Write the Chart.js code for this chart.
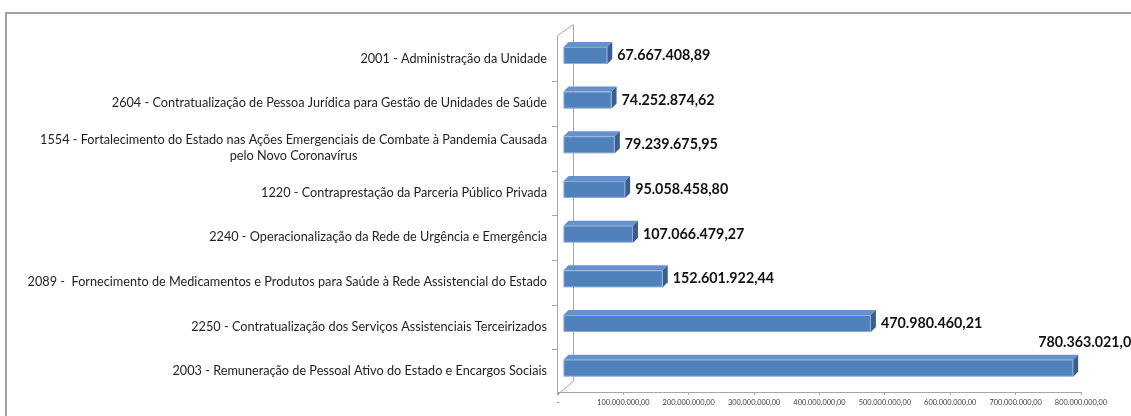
<!DOCTYPE html>
<html lang="pt-BR">
<head>
<meta charset="utf-8">
<title>Despesas por ação</title>
<script src="https://cdn.jsdelivr.net/npm/chart.js@4.4.1/dist/chart.umd.min.js"></script>
<style>
  html, body { margin: 0; padding: 0; background: #fff; overflow: hidden; }
  #wrap { position: relative; width: 1131px; height: 416px; }
  #frame {
    position: absolute; left: 5px; top: 12px; right: -10px; bottom: -10px;
    border-left: 2px solid #a3a3a3; border-top: 2px solid #a3a3a3;
  }
  #chart { position: absolute; left: 0; top: 0; }
</style>
</head>
<body>
<div id="wrap">
  <div id="frame"></div>
  <canvas id="chart" width="1131" height="416"></canvas>
</div>
<script>
// ------------------------------------------------------------
// Dados
// ------------------------------------------------------------

const acoes = [
  '2001 - Administração da Unidade',
  '2604 - Contratualização de Pessoa Jurídica para Gestão de Unidades de Saúde',
  ['1554 - Fortalecimento do Estado nas Ações Emergenciais de Combate à Pandemia Causada', 'pelo Novo Coronavírus'],
  '1220 - Contraprestação da Parceria Público Privada',
  '2240 - Operacionalização da Rede de Urgência e Emergência',
  '2089 -  Fornecimento de Medicamentos e Produtos para Saúde à Rede Assistencial do Estado',
  '2250 - Contratualização dos Serviços Assistenciais Terceirizados',
  '2003 - Remuneração de Pessoal Ativo do Estado e Encargos Sociais'
];

const valores = [
  67667408.89,
  74252874.62,
  79239675.95,
  95058458.80,
  107066479.27,
  152601922.44,
  470980460.21,
  780363021.09
];

const eixoMax = 800000000;
const eixoPasso = 100000000;

// ------------------------------------------------------------
// Aparência
// ------------------------------------------------------------

const FONTE = 'Lato, "Open Sans", sans-serif';
const COR_FRENTE = '#4f81bd';
const COR_TOPO = '#6592cc';
const COR_LADO = '#385f8f';
const COR_PAREDE = '#a6a6a6';
const PROF = 5;      // profundidade do efeito 3D das barras
const DESLOC = 5;    // deslocamento da face frontal em relação ao zero

/**
 * Formata número no padrão brasileiro (1.234.567,89)
 */
function formatarBR(v) {
  const [inteiro, dec] = Math.abs(v).toFixed(2).split('.');
  return inteiro.replace(/\B(?=(\d{3})+(?!\d))/g, '.') + ',' + dec;
}

// ------------------------------------------------------------
// Plugin: paredes, barras 3D, rótulos
// ------------------------------------------------------------

const grafico3d = {
  id: 'grafico3d',

  beforeDatasetsDraw(chart) {
    const { ctx, chartArea } = chart;
    const yScale = chart.scales.y;
    const esq = chartArea.left - 1;
    const fundo = chartArea.left + 15;

    ctx.save();
    ctx.strokeStyle = COR_PAREDE;
    ctx.lineWidth = 1;
    ctx.beginPath();
    // parede lateral
    ctx.moveTo(esq + 0.5, chartArea.top + 1);
    ctx.lineTo(esq + 0.5, chartArea.bottom + 3);
    ctx.moveTo(esq + 0.5, chartArea.top + 1);
    ctx.lineTo(fundo + 0.5, chartArea.top - 10);
    ctx.lineTo(fundo + 0.5, chartArea.bottom - 11);
    ctx.lineTo(esq + 0.5, chartArea.bottom + 3);
    // marcas entre categorias
    const passo = (chartArea.bottom - chartArea.top) / acoes.length;
    for (let i = 1; i < acoes.length; i++) {
      const yy = Math.round(chartArea.top + passo * i + 2) + 0.5;
      ctx.moveTo(esq - 5, yy);
      ctx.lineTo(esq, yy);
    }
    ctx.stroke();

    // rótulos das ações (bloco alinhado à direita, linhas centralizadas)
    ctx.font = '12.7px ' + FONTE;
    ctx.fillStyle = '#1f1f1f';
    ctx.textAlign = 'center';
    ctx.textBaseline = 'middle';
    const direita = chartArea.left - 11;
    const alturaLinha = 16;
    acoes.forEach((rotulo, i) => {
      const linhas = Array.isArray(rotulo) ? rotulo : [rotulo];
      const largura = Math.max(...linhas.map(l => ctx.measureText(l).width));
      const cx = direita - largura / 2;
      const cy = yScale.getPixelForTick(i) + 1.5;
      linhas.forEach((l, k) => {
        const yy = cy + (k - (linhas.length - 1) / 2) * alturaLinha;
        ctx.fillText(l, cx, yy);
      });
    });
    ctx.restore();
  },

  afterDatasetsDraw(chart) {
    const { ctx } = chart;
    const meta = chart.getDatasetMeta(0);

    ctx.save();
    meta.data.forEach((barra, i) => {
      const { x, y, base, height } = barra.getProps(['x', 'y', 'base', 'height'], true);
      const x0 = base + DESLOC;
      const x1 = x + DESLOC;
      const topo = y - height / 2 - 1.5;
      const baixo = topo + height;

      // face superior
      ctx.fillStyle = COR_TOPO;
      ctx.beginPath();
      ctx.moveTo(x0, topo);
      ctx.lineTo(x0 + PROF, topo - PROF);
      ctx.lineTo(x1 + PROF, topo - PROF);
      ctx.lineTo(x1, topo);
      ctx.closePath();
      ctx.fill();

      // face lateral
      ctx.fillStyle = COR_LADO;
      ctx.beginPath();
      ctx.moveTo(x1, topo);
      ctx.lineTo(x1 + PROF, topo - PROF);
      ctx.lineTo(x1 + PROF, baixo - PROF);
      ctx.lineTo(x1, baixo);
      ctx.closePath();
      ctx.fill();

      // face frontal
      ctx.fillStyle = COR_FRENTE;
      ctx.fillRect(x0, topo, x1 - x0, height);
      ctx.strokeStyle = 'rgba(255,255,255,0.35)';
      ctx.lineWidth = 1;
      ctx.strokeRect(x0 + 0.5, topo + 0.5, x1 - x0 - 1, height - 1);

      // rótulo de valor
      const texto = formatarBR(valores[i]);
      ctx.font = 'bold 14.3px ' + FONTE;
      ctx.fillStyle = '#111';
      ctx.textBaseline = 'middle';
      ctx.textAlign = 'left';
      const largura = ctx.measureText(texto).width;
      let lx = x1 + PROF + 5;
      let ly = topo + height / 2;
      if (lx + largura > chart.width) {
        // não cabe à direita: vai para cima da barra
        lx = x1 - 35;
        ly = topo - PROF - 12;
      }
      ctx.fillText(texto, lx, ly);
    });
    ctx.restore();
  }
};

// ------------------------------------------------------------
// Gráfico
// ------------------------------------------------------------

const ctx = document.getElementById('chart').getContext('2d');

new Chart(ctx, {
  type: 'bar',
  data: {
    labels: acoes,
    datasets: [{
      data: valores,
      backgroundColor: 'rgba(0,0,0,0)',
      borderWidth: 0,
      barPercentage: 0.38,
      categoryPercentage: 1
    }]
  },
  options: {
    indexAxis: 'y',
    responsive: false,
    animation: false,
    layout: {
      padding: { left: 0, right: 50, top: 34.6, bottom: 0 }
    },
    scales: {
      y: {
        ticks: { display: false },
        grid: { display: false },
        border: { display: false },
        afterFit(scale) { scale.width = 558; }
      },
      x: {
        min: 0,
        max: eixoMax,
        ticks: {
          stepSize: eixoPasso,
          color: '#404040',
          font: { family: FONTE, size: 7.4 },
          padding: 3,
          maxRotation: 0,
          autoSkip: false,
          callback: v => (v === 0 ? '-' : formatarBR(v))
        },
        grid: {
          drawOnChartArea: false,
          drawTicks: true,
          tickLength: 3,
          color: COR_PAREDE
        },
        border: { display: true, color: COR_PAREDE },
        afterFit(scale) { scale.height = 24; }
      }
    },
    plugins: {
      legend: { display: false },
      tooltip: { enabled: false },
      title: { display: false }
    }
  },
  plugins: [grafico3d]
});
</script>
</body>
</html>
